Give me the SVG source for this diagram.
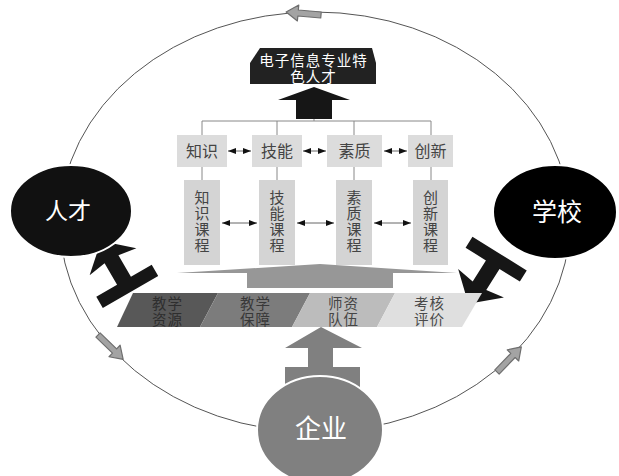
<svg xmlns="http://www.w3.org/2000/svg" width="619" height="476" viewBox="0 0 619 476">
  <style>
    text { font-family: "Noto Sans CJK SC", "Noto Sans", sans-serif; text-anchor: middle; }
    .box { fill: #dcdcdc; }
    .vbox { fill: #d4d4d4; }
    .lbl { font-size: 16px; fill: #444; }
    .vlbl { font-size: 15px; fill: #444; writing-mode: vertical-rl; letter-spacing: 1px; }
    .two { font-family: "Liberation Sans", "Noto Sans CJK SC", sans-serif; font-size: 14.5px; letter-spacing: 1px; }
    .link { stroke: #888; stroke-width: 1; fill: none; }
    .dbl { stroke: #666; stroke-width: 1; fill: none; marker-start: url(#headL); marker-end: url(#headR); }
    .ring-arrow { fill: #a3a3a3; stroke: #6e6e6e; stroke-width: 1.2; stroke-linejoin: round; }
    .black-arrow { fill: #161616; }
  </style>
  <defs>
    <marker id="headR" viewBox="0 0 8 6" refX="8" refY="3" markerWidth="8" markerHeight="6" markerUnits="userSpaceOnUse" orient="auto">
      <path d="M0,0 L8,3 L0,6 Z" fill="#111"/>
    </marker>
    <marker id="headL" viewBox="0 0 8 6" refX="0" refY="3" markerWidth="8" markerHeight="6" markerUnits="userSpaceOnUse" orient="auto">
      <path d="M8,0 L0,3 L8,6 Z" fill="#111"/>
    </marker>
    <!-- small block arrow sitting on the outer ring, pointing along +x -->
    <path id="ringArrow" d="M0,-3 L23,-3 L23,-8 L35,0 L23,8 L23,3 L0,3 Z"/>
    <!-- thick arrow with a cross-bar foot, pointing up, origin at the barb line -->
    <path id="footArrow" d="M0,-22 L27,2 L8,-1 L8,24 L32,24 L32,37 L-32,37 L-32,24 L-8,24 L-8,-1 L-27,2 Z"/>
  </defs>

  <rect width="619" height="476" fill="#fff"/>

  <!-- outer cycle ring -->
  <g id="ring">
    <ellipse cx="315" cy="222" rx="255" ry="210" fill="none" stroke="#555" stroke-width="1"/>
    <use href="#ringArrow" class="ring-arrow" transform="translate(321,15) rotate(185)"/>
    <use href="#ringArrow" class="ring-arrow" transform="translate(98,335) rotate(44)"/>
    <use href="#ringArrow" class="ring-arrow" transform="translate(497,372) rotate(-46)"/>
  </g>

  <!-- connectors -->
  <g id="connectors">
    <!-- talent output arrow -->
    <path class="black-arrow" d="M296,100 L278,100 L314,87 L350,100 L332,100 L332,119 L296,119 Z"/>
    <line class="link" x1="314" y1="119" x2="314" y2="121"/>
    <path class="link" d="M202,121 H431 M202,121 V135 M277,121 V135 M354,121 V135 M431,121 V135"/>
    <path class="link" d="M202,167 V180 M277,167 V180 M354,167 V180 M431,167 V180"/>
    <line class="dbl" x1="228" y1="151" x2="251" y2="151"/>
    <line class="dbl" x1="303" y1="151" x2="326" y2="151"/>
    <line class="dbl" x1="384" y1="151" x2="407" y2="151"/>
    <line class="dbl" x1="222" y1="223" x2="257" y2="223"/>
    <line class="dbl" x1="297" y1="223" x2="334" y2="223"/>
    <line class="dbl" x1="374" y1="223" x2="411" y2="223"/>
    <!-- wide support arrow under the course boxes -->
    <path d="M177,273 L320,264 L457,273 L393,273 L393,288 L247,288 L247,273 Z" fill="#979797"/>
    <!-- band to talent / school -->
    <use href="#footArrow" class="black-arrow" transform="translate(112,260) rotate(-30)"/>
    <use href="#footArrow" class="black-arrow" transform="translate(480,285) rotate(212)"/>
    <!-- enterprise up arrow -->
    <path d="M321,327 L362,348 L333,348 L333,367 L360,367 L360,392 L285,392 L285,367 L308,367 L308,348 L285,348 Z" fill="#808080"/>
  </g>

  <g id="node-goal">
    <path d="M250,84 L250,63 L260,48 L372,48 L376,63 L376,84 Z" fill="#222"/>
    <text class="two" fill="#fff"><tspan x="313.5" y="65.5">电子信息专业特</tspan><tspan x="313.5" y="82">色人才</tspan></text>
  </g>

  <g id="node-knowledge">
    <rect class="box" x="177" y="135" width="50" height="32"/>
    <text class="lbl" x="202" y="157">知识</text>
  </g>
  <g id="node-skill">
    <rect class="box" x="252" y="135" width="50" height="32"/>
    <text class="lbl" x="277" y="157">技能</text>
  </g>
  <g id="node-quality">
    <rect class="box" x="327" y="135" width="55" height="32"/>
    <text class="lbl" x="354.5" y="157">素质</text>
  </g>
  <g id="node-innovation">
    <rect class="box" x="408" y="135" width="45" height="32"/>
    <text class="lbl" x="430.5" y="157">创新</text>
  </g>

  <g id="node-knowledge-course">
    <rect class="vbox" x="184" y="180" width="36" height="85"/>
    <text class="vlbl" x="202" y="222">知识课程</text>
  </g>
  <g id="node-skill-course">
    <rect class="vbox" x="259" y="180" width="36" height="85"/>
    <text class="vlbl" x="277" y="222">技能课程</text>
  </g>
  <g id="node-quality-course">
    <rect class="vbox" x="336" y="180" width="36" height="85"/>
    <text class="vlbl" x="354" y="222">素质课程</text>
  </g>
  <g id="node-innovation-course">
    <rect class="vbox" x="413" y="180" width="35" height="85"/>
    <text class="vlbl" x="430.5" y="222">创新课程</text>
  </g>

  <!-- support band -->
  <g id="node-resources">
    <path d="M133,293 L218,293 L200,327 L117,327 Z" fill="#585858"/>
    <text class="two" fill="#2e2e2e"><tspan x="167.5" y="308.5">教学</tspan><tspan x="167.5" y="325">资源</tspan></text>
  </g>
  <g id="node-guarantee">
    <path d="M218,293 L310,293 L292,327 L200,327 Z" fill="#7c7c7c"/>
    <text class="two" fill="#383838"><tspan x="255.5" y="308.5">教学</tspan><tspan x="255.5" y="325">保障</tspan></text>
  </g>
  <g id="node-faculty">
    <path d="M310,293 L395,293 L377,327 L292,327 Z" fill="#bcbcbc"/>
    <text class="two" fill="#454545"><tspan x="343.5" y="308.5">师资</tspan><tspan x="343.5" y="325">队伍</tspan></text>
  </g>
  <g id="node-assessment">
    <path d="M395,293 L482,293 L462,327 L377,327 Z" fill="#dfdfdf"/>
    <text class="two" fill="#4a4a4a"><tspan x="429.5" y="308.5">考核</tspan><tspan x="429.5" y="325">评价</tspan></text>
  </g>

  <g id="node-talent">
    <ellipse cx="71" cy="211" rx="61" ry="46" fill="#111" stroke="#fff" stroke-width="2"/>
    <text x="68" y="219" style="font-size:23px" fill="#fff">人才</text>
  </g>
  <g id="node-school">
    <ellipse cx="555" cy="212" rx="62" ry="47" fill="#000" stroke="#fff" stroke-width="2"/>
    <text x="557" y="221" style="font-size:25px" fill="#fff">学校</text>
  </g>
  <g id="node-enterprise">
    <ellipse cx="320" cy="430" rx="63" ry="54" fill="#808080" stroke="#fff" stroke-width="2"/>
    <text x="321" y="438" style="font-size:26px" fill="#fff">企业</text>
  </g>
</svg>
